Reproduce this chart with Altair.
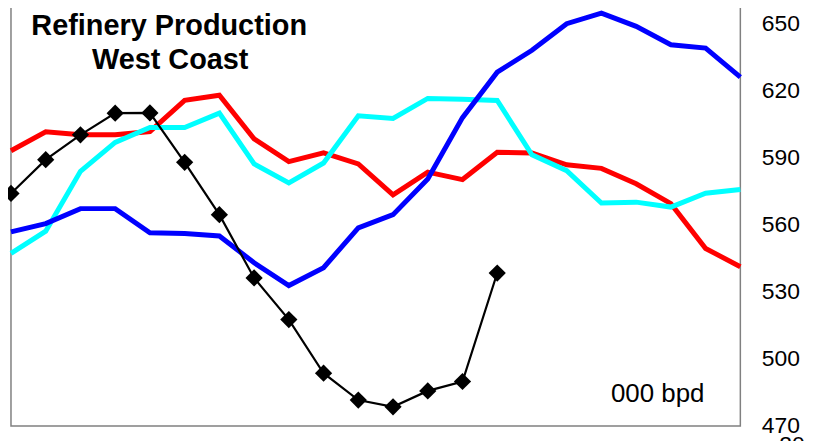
import altair as alt
import pandas as pd

# Series values (thousand barrels per day), one value per period
red = [593.1, 601.6, 600.2, 600.2, 601.7, 615.6, 617.9, 598.4, 588.2, 592.1, 587.2,
       573.4, 583.5, 580.2, 592.4, 592.1, 586.8, 585.2, 578.3, 569.4, 549.4, 541.2]
cyan = [547.2, 557.1, 583.9, 596.8, 603.5, 603.5, 609.9, 587.2, 578.7, 587.6, 608.7,
        607.5, 616.5, 616.1, 615.6, 591.3, 584.2, 569.7, 570.1, 567.9, 574.1, 575.8]
blue = [556.8, 560.5, 567.2, 567.2, 556.4, 556.1, 555.0, 543.0, 532.8, 540.8, 558.6,
        564.5, 580.5, 607.9, 628.2, 638.0, 649.9, 654.6, 648.7, 640.5, 639.0, 626.0]
black = [574.0, 589.1, 600.2, 609.9, 610.0, 587.9, 564.5, 536.2, 517.6, 493.6, 481.6,
         478.6, 485.7, 489.9, 538.4]

y_ticks = [470, 500, 530, 560, 590, 620, 650]
title_lines = ["Refinery Production", "West Coast"]
unit_label = "000 bpd"


def frame(vals):
    return pd.DataFrame({"i": list(range(len(vals))), "v": vals})


x_enc = alt.X("i:Q", scale=alt.Scale(domain=[0, 21], nice=False, zero=False), axis=None)
y_enc = alt.Y(
    "v:Q",
    scale=alt.Scale(domain=[470, 660], nice=False, zero=False),
    axis=alt.Axis(
        orient="right", values=y_ticks, title=None, grid=False, domain=False,
        tickSize=0, labelPadding=21, labelFontSize=23, labelFont="Liberation Sans",
        labelColor="black", labelFlush=False,
    ),
)


def line(vals, color, width):
    return alt.Chart(frame(vals)).mark_line(color=color, strokeWidth=width).encode(x=x_enc, y=y_enc)


red_l = line(red, "#FF0000", 5)
cyan_l = line(cyan, "#00FFFF", 5)
blue_l = line(blue, "#0000FF", 5)
black_l = line(black, "#000000", 2.2)
black_p = alt.Chart(frame(black)).mark_point(
    shape="diamond", filled=True, size=300, color="#000000", opacity=1
).encode(x=x_enc, y=y_enc)

t1 = alt.Chart(pd.DataFrame({"t": [title_lines[0]]})).mark_text(
    font="Liberation Sans", fontWeight="bold", fontSize=29, align="center",
    baseline="alphabetic", color="black"
).encode(text="t:N", x=alt.value(159), y=alt.value(34))
t2 = alt.Chart(pd.DataFrame({"t": [title_lines[1]]})).mark_text(
    font="Liberation Sans", fontWeight="bold", fontSize=29, align="center",
    baseline="alphabetic", color="black"
).encode(text="t:N", x=alt.value(160), y=alt.value(68))
unit = alt.Chart(pd.DataFrame({"t": [unit_label]})).mark_text(
    font="Liberation Sans", fontSize=26, align="left", baseline="alphabetic", color="black"
).encode(text="t:N", x=alt.value(603), y=alt.value(403))
cut = alt.Chart(pd.DataFrame({"t": ["20"]})).mark_text(
    font="Liberation Sans", fontSize=23, align="left", baseline="alphabetic", color="black"
).encode(text="t:N", x=alt.value(772), y=alt.value(453))

chart = alt.layer(red_l, cyan_l, blue_l, black_l, black_p, t1, t2, unit, cut).properties(
    width=733, height=427,
    autosize=alt.AutoSizeParams(type="none"),
    padding={"left": 3, "top": -8, "right": 70, "bottom": 14},
).configure_view(stroke="#808080", strokeWidth=1.5)

chart.save("out.html", embed_options={"renderer": "svg", "actions": False})
